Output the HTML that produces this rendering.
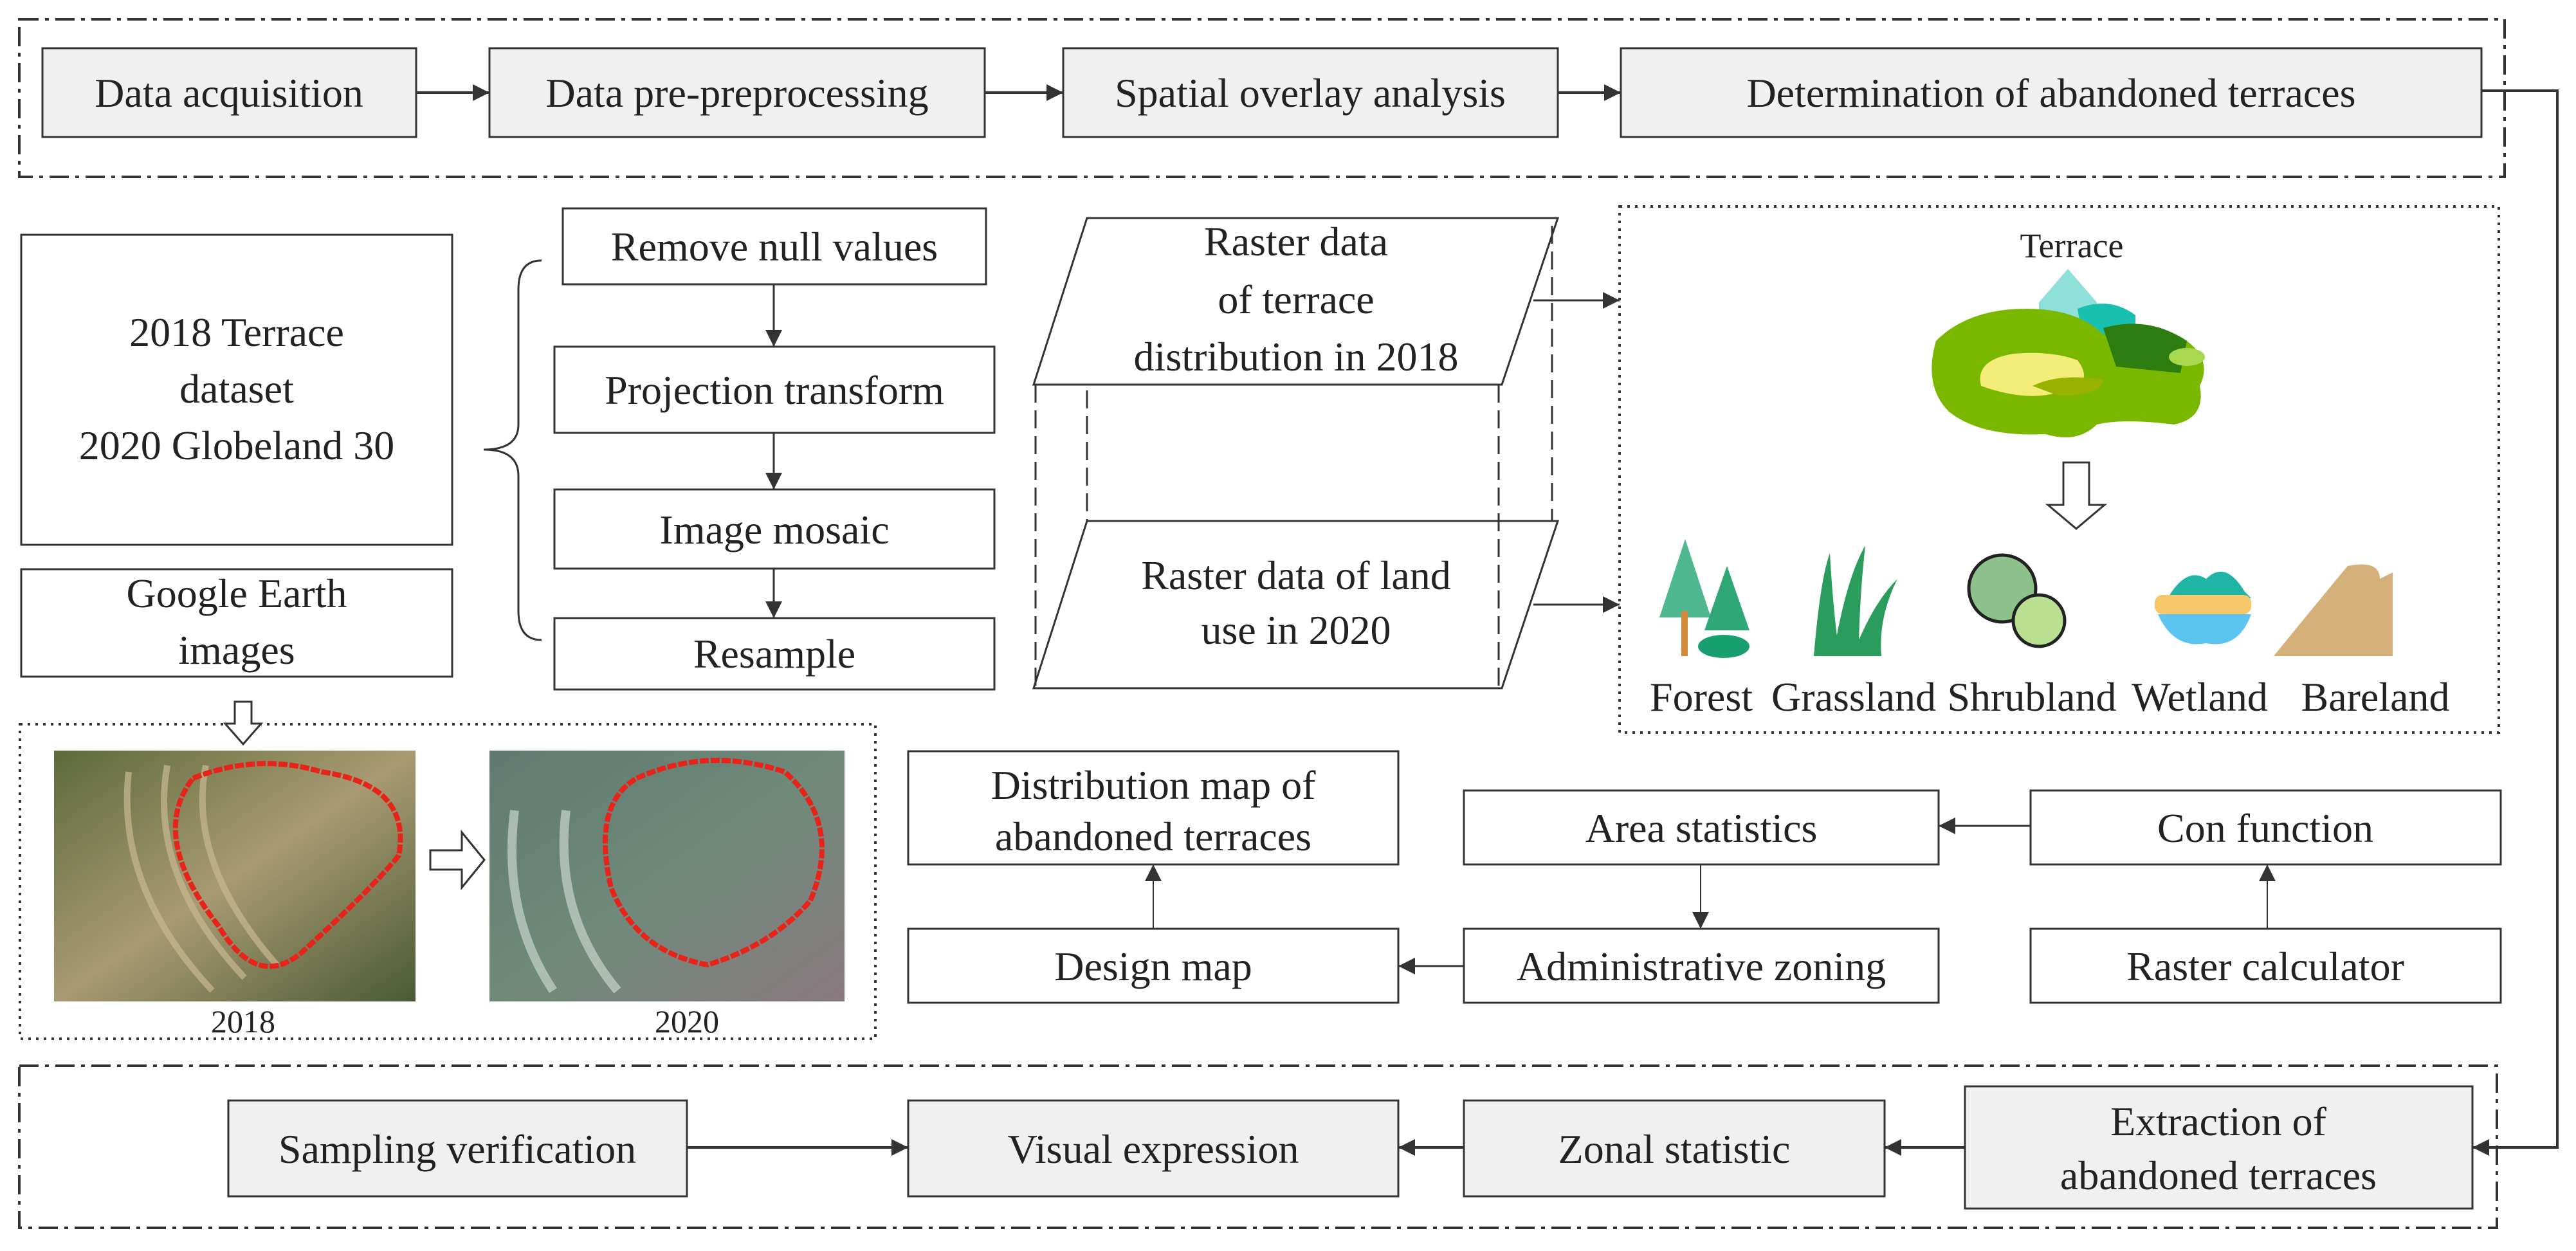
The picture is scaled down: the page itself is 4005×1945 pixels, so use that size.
<!DOCTYPE html>
<html><head><meta charset="utf-8"><style>
html,body{margin:0;padding:0;background:#fff}
svg{display:block}
text{font-family:"Liberation Serif",serif;font-size:64px;fill:#222;text-anchor:middle}
</style></head><body>
<svg width="4005" height="1945" viewBox="0 0 4005 1945" xmlns="http://www.w3.org/2000/svg">
<defs>
<marker id="a" viewBox="0 0 10 10" refX="10" refY="5" markerWidth="26" markerHeight="26" markerUnits="userSpaceOnUse" orient="auto"><path d="M0,0 L10,5 L0,10z" fill="#333"/></marker>
<linearGradient id="p1" x1="0" y1="0" x2="1" y2="1"><stop offset="0" stop-color="#5d6a3c"/><stop offset=".5" stop-color="#a89a72"/><stop offset="1" stop-color="#4a5a35"/></linearGradient>
<linearGradient id="p2" x1="0" y1="0" x2="1" y2="1"><stop offset="0" stop-color="#5f7a70"/><stop offset=".5" stop-color="#6f8a7a"/><stop offset="1" stop-color="#8a7a80"/></linearGradient>
</defs>
<g stroke="#333" stroke-width="4" fill="none">
<!-- top frame -->
<rect x="30" y="30" width="3864" height="245" stroke-dasharray="30,10,6,10"/>
<rect x="66" y="75" width="581" height="138" fill="#f0f0f0" stroke-width="3"/>
<rect x="761" y="75" width="770" height="138" fill="#f0f0f0" stroke-width="3"/>
<rect x="1653" y="75" width="769" height="138" fill="#f0f0f0" stroke-width="3"/>
<rect x="2520" y="75" width="1338" height="138" fill="#f0f0f0" stroke-width="3"/>
<line x1="647" y1="144" x2="761" y2="144" marker-end="url(#a)"/>
<line x1="1531" y1="144" x2="1653" y2="144" marker-end="url(#a)"/>
<line x1="2422" y1="144" x2="2520" y2="144" marker-end="url(#a)"/>
<polyline points="3858,141 3976,141 3976,1784 3844,1784" marker-end="url(#a)"/>
<!-- left boxes -->
<rect x="33" y="365" width="670" height="482" stroke-width="3"/>
<rect x="33" y="885" width="670" height="167" stroke-width="3"/>
<path d="M842,405 Q806,405 806,450 L806,660 Q806,699 752,699 Q806,699 806,740 L806,950 Q806,995 842,995" stroke-width="3"/>
<rect x="875" y="324" width="658" height="118" stroke-width="3"/>
<rect x="862" y="539" width="684" height="134" stroke-width="3"/>
<rect x="862" y="761" width="684" height="123" stroke-width="3"/>
<rect x="862" y="961" width="684" height="111" stroke-width="3"/>
<line x1="1203" y1="442" x2="1203" y2="539" marker-end="url(#a)" stroke-width="3"/>
<line x1="1203" y1="673" x2="1203" y2="761" marker-end="url(#a)" stroke-width="3"/>
<line x1="1203" y1="884" x2="1203" y2="961" marker-end="url(#a)" stroke-width="3"/>
<!-- parallelograms -->
<polygon points="1690,339 2422,339 2335,598 1607,598" fill="#fff" stroke-width="3"/>
<polygon points="1690,810 2422,810 2335,1070 1607,1070" fill="#fff" stroke-width="3"/>
<line x1="1610" y1="598" x2="1610" y2="1070" stroke-dasharray="28,12" stroke-width="3"/>
<line x1="1690" y1="607" x2="1690" y2="810" stroke-dasharray="28,12" stroke-width="3"/>
<line x1="2413" y1="351" x2="2413" y2="810" stroke-dasharray="28,12" stroke-width="3"/>
<line x1="2330" y1="598" x2="2330" y2="1070" stroke-dasharray="28,12" stroke-width="3"/>
<line x1="2384" y1="467" x2="2518" y2="467" marker-end="url(#a)" stroke-width="3"/>
<line x1="2384" y1="940" x2="2518" y2="940" marker-end="url(#a)" stroke-width="3"/>
<!-- dotted terrace box -->
<rect x="2518" y="321" width="1367" height="818" stroke-dasharray="4,8" stroke-width="4"/>
<path d="M3208,719 L3248,719 L3248,785 L3272,785 L3228,822 L3184,785 L3208,785z" fill="#fff" stroke-width="3"/>
<!-- photos box -->
<rect x="31" y="1126" width="1330" height="489" stroke-dasharray="4,8" stroke-width="4"/>
<path d="M365,1091 L391,1091 L391,1125 L406,1125 L378,1157 L350,1125 L365,1125z" fill="#fff" stroke-width="3"/>
<path d="M669,1322 L718,1322 L718,1294 L753,1337 L718,1380 L718,1352 L669,1352z" fill="#fff" stroke-width="3"/>
<!-- middle flow -->
<rect x="1412" y="1168" width="762" height="176" stroke-width="3"/>
<rect x="2276" y="1229" width="738" height="115" stroke-width="3"/>
<rect x="3157" y="1229" width="731" height="115" stroke-width="3"/>
<rect x="1412" y="1444" width="762" height="115" stroke-width="3"/>
<rect x="2276" y="1444" width="738" height="115" stroke-width="3"/>
<rect x="3157" y="1444" width="731" height="115" stroke-width="3"/>
<line x1="3157" y1="1284" x2="3014" y2="1284" marker-end="url(#a)" stroke-width="3"/>
<line x1="3525" y1="1444" x2="3525" y2="1344" marker-end="url(#a)" stroke-width="2"/>
<line x1="2644" y1="1344" x2="2644" y2="1444" marker-end="url(#a)" stroke-width="2"/>
<line x1="2276" y1="1502" x2="2174" y2="1502" marker-end="url(#a)" stroke-width="3"/>
<line x1="1793" y1="1444" x2="1793" y2="1344" marker-end="url(#a)" stroke-width="2"/>
<!-- bottom frame -->
<rect x="30" y="1657" width="3852" height="252" stroke-dasharray="30,10,6,10"/>
<rect x="355" y="1711" width="713" height="149" fill="#f0f0f0" stroke-width="3"/>
<rect x="1412" y="1711" width="762" height="149" fill="#f0f0f0" stroke-width="3"/>
<rect x="2276" y="1711" width="654" height="149" fill="#f0f0f0" stroke-width="3"/>
<rect x="3055" y="1689" width="789" height="190" fill="#f0f0f0" stroke-width="3"/>
<line x1="1068" y1="1784" x2="1412" y2="1784" marker-end="url(#a)"/>
<line x1="2276" y1="1784" x2="2174" y2="1784" marker-end="url(#a)"/>
<line x1="3055" y1="1784" x2="2930" y2="1784" marker-end="url(#a)"/>
</g>
<!-- photos -->
<rect x="84" y="1167" width="562" height="390" fill="url(#p1)"/>
<g stroke="#c8b890" stroke-width="10" fill="none" opacity=".7"><path d="M200,1200 Q180,1380 330,1540"/><path d="M260,1190 Q230,1360 380,1520"/><path d="M320,1190 Q290,1340 430,1500"/></g>
<path d="M300,1210 Q400,1170 500,1200 Q640,1220 620,1330 Q580,1380 470,1480 Q400,1540 340,1440 Q230,1300 300,1210z" fill="none" stroke="#e8241a" stroke-width="8" stroke-dasharray="14,3"/>
<rect x="761" y="1167" width="552" height="390" fill="url(#p2)"/>
<g stroke="#c9d4cc" stroke-width="14" fill="none" opacity=".7"><path d="M800,1260 Q780,1420 860,1540"/><path d="M880,1260 Q860,1420 960,1540"/></g>
<path d="M990,1210 Q1100,1160 1220,1200 Q1310,1280 1260,1400 Q1200,1470 1100,1500 Q990,1480 950,1380 Q920,1250 990,1210z" fill="none" stroke="#e8241a" stroke-width="8" stroke-dasharray="14,3"/>
<!-- terrace illustration -->
<path d="M3170,470 L3215,418 L3260,470 L3260,520 L3170,520z" fill="#8fe0d8"/>
<path d="M3230,480 Q3280,460 3320,490 L3320,540 L3240,540z" fill="#19c0b0"/>
<path d="M3010,530 Q3060,480 3150,480 Q3230,480 3270,520 Q3340,490 3400,530 Q3440,560 3420,600 Q3430,650 3380,660 Q3300,650 3260,660 Q3230,690 3180,675 Q3080,680 3030,640 Q2990,600 3010,530z" fill="#7ab800"/>
<path d="M3270,510 Q3340,490 3400,530 L3390,580 L3290,570z" fill="#2e7d10"/>
<path d="M3080,600 Q3070,560 3130,550 Q3190,545 3230,560 Q3260,600 3200,610 Q3150,625 3080,600z" fill="#f3ec78"/>
<path d="M3160,600 Q3200,580 3270,590 Q3270,615 3200,615z" fill="#98b200"/>
<ellipse cx="3400" cy="555" rx="28" ry="14" fill="#a8d850"/>
<!-- icons -->
<g>
<polygon points="2620,838 2580,960 2660,960" fill="#4fb891"/><rect x="2614" y="950" width="10" height="70" fill="#d28a3a"/>
<polygon points="2685,880 2650,980 2720,980" fill="#2fa777"/><ellipse cx="2680" cy="1005" rx="40" ry="18" fill="#19a070"/>
<path d="M2820,1020 Q2830,900 2845,860 Q2850,950 2860,1020z M2850,1020 Q2870,900 2900,848 Q2890,940 2890,1020z M2880,1020 Q2910,940 2950,900 Q2920,960 2925,1020z" fill="#2a9d5c"/>
<circle cx="3113" cy="915" r="52" fill="#8ec08c" stroke="#222" stroke-width="5"/>
<circle cx="3170" cy="965" r="40" fill="#b8e090" stroke="#222" stroke-width="5"/>
<path d="M3370,930 Q3400,880 3430,900 Q3460,870 3490,920 L3500,930z" fill="#1fb5a5"/>
<rect x="3350" y="925" width="150" height="30" rx="12" fill="#f7c86a"/>
<path d="M3355,955 L3500,955 Q3480,1010 3430,1000 Q3380,1010 3355,955z" fill="#5cc4f0"/>
<path d="M3535,1020 Q3600,940 3650,880 Q3700,870 3700,900 L3720,890 L3720,1020z" fill="#d6b07a"/>
</g>
<!-- texts -->
<text x="356" y="166">Data acquisition</text>
<text x="1146" y="166">Data pre-preprocessing</text>
<text x="2037" y="166">Spatial overlay analysis</text>
<text x="3189" y="166">Determination of abandoned terraces</text>
<text x="368" y="538">2018 Terrace</text>
<text x="368" y="626">dataset</text>
<text x="368" y="714">2020 Globeland 30</text>
<text x="368" y="944">Google Earth</text>
<text x="368" y="1032">images</text>
<text x="1204" y="405">Remove null values</text>
<text x="1204" y="628">Projection transform</text>
<text x="1204" y="845">Image mosaic</text>
<text x="1204" y="1038">Resample</text>
<text x="2015" y="397">Raster data</text>
<text x="2015" y="487">of terrace</text>
<text x="2015" y="576">distribution in 2018</text>
<text x="2015" y="916">Raster data of land</text>
<text x="2015" y="1001">use in 2020</text>
<text x="3221" y="400" style="font-size:54px">Terrace</text>
<g style="font-size:54px"><text x="2645" y="1105">Forest</text><text x="2882" y="1105">Grassland</text><text x="3159" y="1105">Shrubland</text><text x="3420" y="1105">Wetland</text><text x="3693" y="1105">Bareland</text></g>
<text x="378" y="1605" style="font-size:50px">2018</text>
<text x="1068" y="1605" style="font-size:50px">2020</text>
<text x="1793" y="1242">Distribution map of</text>
<text x="1793" y="1322">abandoned terraces</text>
<text x="2645" y="1309">Area statistics</text>
<text x="3522" y="1309">Con function</text>
<text x="1793" y="1524">Design map</text>
<text x="2645" y="1524">Administrative zoning</text>
<text x="3522" y="1524">Raster calculator</text>
<text x="711" y="1808">Sampling verification</text>
<text x="1793" y="1808">Visual expression</text>
<text x="2603" y="1808">Zonal statistic</text>
<text x="3449" y="1765">Extraction of</text>
<text x="3449" y="1849">abandoned terraces</text>
</svg>
</body></html>
